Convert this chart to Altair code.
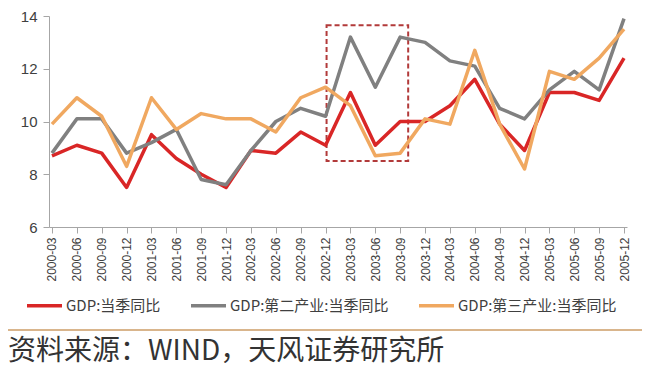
import altair as alt
import pandas as pd

quarters = ["2000-03", "2000-06", "2000-09", "2000-12",
            "2001-03", "2001-06", "2001-09", "2001-12",
            "2002-03", "2002-06", "2002-09", "2002-12",
            "2003-03", "2003-06", "2003-09", "2003-12",
            "2004-03", "2004-06", "2004-09", "2004-12",
            "2005-03", "2005-06", "2005-09", "2005-12"]

gdp = [8.7, 9.1, 8.8, 7.5, 9.5, 8.6, 8.0, 7.5, 8.9, 8.8, 9.6, 9.1,
       11.1, 9.1, 10.0, 10.0, 10.6, 11.6, 9.9, 8.9, 11.1, 11.1, 10.8, 12.4]
secondary = [8.8, 10.1, 10.1, 8.8, 9.2, 9.7, 7.8, 7.6, 8.9, 10.0, 10.5, 10.2,
             13.2, 11.3, 13.2, 13.0, 12.3, 12.1, 10.5, 10.1, 11.2, 11.9, 11.2, 13.9]
tertiary = [9.9, 10.9, 10.2, 8.3, 10.9, 9.7, 10.3, 10.1, 10.1, 9.6, 10.9, 11.3,
            10.6, 8.7, 8.8, 10.1, 9.9, 12.7, 9.9, 8.2, 11.9, 11.6, 12.4, 13.5]

series_names = ["GDP:当季同比", "GDP:第二产业:当季同比", "GDP:第三产业:当季同比"]
series_colors = ["#D92626", "#808080", "#F0A860"]

# highlighted period (dashed box)
box_x = ["2002-12"]
box_x2 = ["2003-09"]
box_y = [13.65]
box_y2 = [8.5]

source_text = "资料来源：WIND，天风证券研究所"

rows = []
for name, vals in zip(series_names, [gdp, secondary, tertiary]):
    for q, v in zip(quarters, vals):
        rows.append({"quarter": q, "value": v, "series": name})
df = pd.DataFrame(rows)

box_df = pd.DataFrame({"x": box_x, "x2": box_x2, "y": box_y, "y2": box_y2})

W, H = 578, 211

x_enc = alt.X("quarter:O", sort=quarters,
              scale=alt.Scale(type="point", padding=0.12),
              axis=alt.Axis(title=None, labelAngle=270, labelFontSize=12,
                            labelFont="Liberation Sans", labelColor="#404040",
                            labelPadding=4, tickSize=6, tickColor="#A6A6A6",
                            domainColor="#A6A6A6", labelBaseline="middle",
                            labelAlign="right"))
y_enc = alt.Y("value:Q",
              scale=alt.Scale(domain=[6, 14], nice=False, zero=False),
              axis=alt.Axis(title=None, values=[6, 8, 10, 12, 14], grid=False,
                            labelFontSize=15, labelFont="Liberation Sans",
                            labelColor="#404040", tickSize=6, labelPadding=6,
                            tickColor="#A6A6A6", domainColor="#A6A6A6"))

lines = alt.Chart(df).mark_line(strokeWidth=3.5, strokeJoin="round").encode(
    x=x_enc,
    y=y_enc,
    color=alt.Color("series:N", sort=series_names,
                    scale=alt.Scale(domain=series_names, range=series_colors),
                    legend=alt.Legend(title=None, orient="none", direction="horizontal",
                                      legendX=-24, legendY=270,
                                      symbolType="stroke", symbolSize=1225,
                                      symbolStrokeWidth=3.5, labelFontSize=15,
                                      labelFont="Noto Sans CJK SC", labelColor="#404040",
                                      labelOffset=2, columnPadding=23)),
    order=alt.Order("quarter:O"),
)

box = alt.Chart(box_df).mark_rect(fill="transparent", stroke="#B23A3A",
                                  strokeWidth=2, strokeDash=[5, 3],
                                  xOffset=1, x2Offset=8).encode(
    x=alt.X("x:O", sort=quarters),
    x2="x2:O",
    y=alt.Y("y:Q"),
    y2="y2:Q",
)

sep = alt.Chart(pd.DataFrame({"a": [0]})).mark_rule(color="#D9B58C", strokeWidth=2).encode(
    x=alt.value(-41), x2=alt.value(593), y=alt.value(314)
)

src = alt.Chart(pd.DataFrame({"t": [source_text]})).mark_text(
    align="left", baseline="middle", fontSize=28, font="Noto Sans CJK SC",
    color="#333333").encode(
    text="t:N", x=alt.value(-41), y=alt.value(336)
)

chart = alt.layer(box, lines, sep, src).properties(
    width=W, height=H,
    autosize=alt.AutoSizeParams(type="none"),
    padding={"left": 41, "top": 8, "right": 15, "bottom": 150},
).configure_view(strokeWidth=0).configure_axis(domainWidth=1, tickWidth=1)

chart.save("out.html", embed_options={"renderer": "svg", "actions": False})
